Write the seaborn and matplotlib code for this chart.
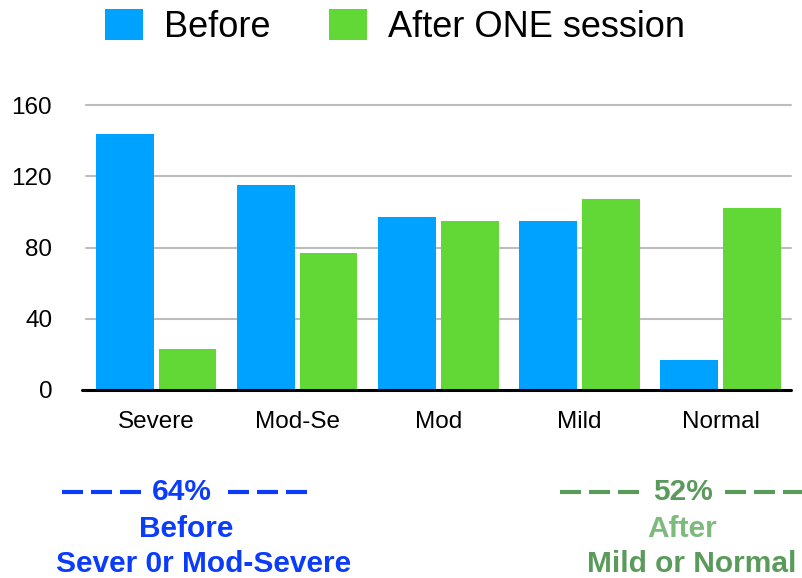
import matplotlib
matplotlib.use("Agg")
import matplotlib.pyplot as plt
from matplotlib.lines import Line2D
from matplotlib.patches import Patch
import seaborn as sns
import pandas as pd

categories = ["Severe", "Mod-Se", "Mod", "Mild", "Normal"]
series_names = ["Before", "After ONE session"]
before_values = [144, 115, 97, 95, 17]
after_values = [23, 77, 95, 107, 102]
y_ticks = [0, 40, 80, 120, 160]
colors = ["#00A2FF", "#61D836"]

df = pd.DataFrame({
    "category": categories * 2,
    "series": [series_names[0]] * len(categories) + [series_names[1]] * len(categories),
    "value": before_values + after_values,
})

sns.set_theme(style="white")
plt.rcParams["font.family"] = ["Liberation Sans", "DejaVu Sans"]

W, H = 802, 578
fig = plt.figure(figsize=(W / 100, H / 100), dpi=100)
ax = fig.add_axes([85.5 / W, (H - 390) / H, (791 - 85.5) / W, (390 - 105) / H])

sns.barplot(data=df, x="category", y="value", hue="series", order=categories,
            hue_order=series_names, palette=colors, width=0.89, gap=0.08,
            saturation=1, ax=ax, legend=False, linewidth=0, edgecolor="none")

ax.set_ylim(0, 160)
ax.set_xlim(-0.5, len(categories) - 0.5)
ax.set_yticks(y_ticks)
ax.set_yticklabels([str(t) for t in y_ticks])
ax.set_xlabel("")
ax.set_ylabel("")
for s in ["top", "right", "left", "bottom"]:
    ax.spines[s].set_visible(False)
# baseline spanning slightly left of the plot area, like the reference
ax.axhline(0, xmin=-0.005, xmax=1.0, color="black", linewidth=2.2, zorder=5, clip_on=False)
for t in y_ticks[1:]:
    ax.axhline(t, color="#bdbdbd", linewidth=1.5, zorder=0, clip_on=False)
ax.tick_params(axis="y", length=0, pad=24, labelsize=17.5, labelcolor="black")
ax.tick_params(axis="x", length=0, pad=15, labelsize=17.5, labelcolor="black")

handles = [Patch(facecolor=c, edgecolor="none") for c in colors]
fig.legend(handles, series_names, loc="center", bbox_to_anchor=(395 / W, 1 - 27 / H),
           ncol=2, frameon=False, fontsize=26, handlelength=1.05, handleheight=0.95,
           handletextpad=0.6, columnspacing=1.6, borderpad=0, borderaxespad=0,
           labelcolor="black")

# bottom annotations
blue = "#0B3CFA"
green_dark = "#5A9A5A"
green_light = "#7DBB7D"

def fx(x):
    return x / W

def fy(y):
    return 1 - y / H

kw = dict(ha="center", va="baseline", fontsize=21.5, fontweight="bold",
          family=["Liberation Sans", "DejaVu Sans"])
fig.text(fx(182), fy(500), "64%", color=blue, **kw)
fig.text(fx(186), fy(537), "Before", color=blue, **kw)
fig.text(fx(204), fy(572), "Sever 0r Mod-Severe", color=blue, **kw)

fig.text(fx(683), fy(500), "52%", color=green_dark, **kw)
fig.text(fx(682), fy(537), "After", color=green_light, **kw)
fig.text(fx(692), fy(572), "Mild or Normal", color=green_dark, **kw)

def dashes(x0, color):
    for i in range(3):
        xs = x0 + i * 29
        fig.add_artist(Line2D([fx(xs), fx(xs + 21)], [fy(492), fy(492)],
                              color=color, linewidth=3, solid_capstyle="butt"))

dashes(62, blue)
dashes(228, blue)
dashes(560, green_dark)
dashes(725, green_dark)

fig.savefig("out.png", dpi=100)
